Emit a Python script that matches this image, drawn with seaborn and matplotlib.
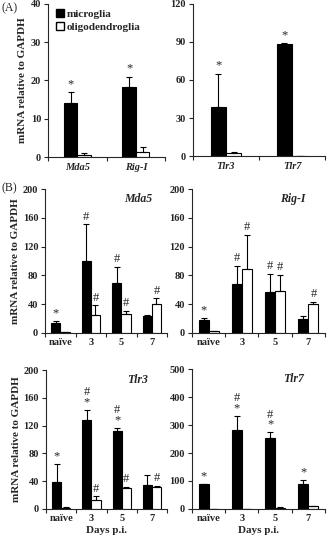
import numpy as np
import pandas as pd
import matplotlib.pyplot as plt
import seaborn as sns
from matplotlib.patches import Patch

# Panel A: cultured cells
genes_a = ['Mda5', 'Rig-I', 'Tlr3', 'Tlr7']
mic_a = [14, 18.3, 39, 88.5]
mic_a_err = [3, 2.7, 26, 0.5]
oli_a = [0.6, 1.3, 2.5, 0.3]
oli_a_err = [0.6, 1.4, 0.8, 0.1]
mic_a_sig = ['*', '*', '*', '*']
oli_a_sig = ['', '', '', '']

# Panel B: time course
days = ['naïve', '3', '5', '7']
mda5_mic = [14, 100, 70, 24]
mda5_mic_err = [3, 51, 22, 0.5]
mda5_oli = [1, 25, 26, 40]
mda5_oli_err = [0.3, 13, 5, 8]
mda5_mic_sig = ['*', '#', '#', '']
mda5_oli_sig = ['', '#', '#', '#']

rigi_mic = [18, 68, 57, 19]
rigi_mic_err = [3, 25, 25, 5]
rigi_oli = [2, 89, 58, 40]
rigi_oli_err = [0.5, 47, 23, 3]
rigi_mic_sig = ['*', '#', '#', '']
rigi_oli_sig = ['', '#', '#', '#']

tlr3_mic = [39, 128, 113, 34]
tlr3_mic_err = [26, 15, 4, 15]
tlr3_oli = [2, 13, 30, 31]
tlr3_oli_err = [0.5, 5, 2, 2]
tlr3_mic_sig = ['*', '#\n*', '#\n*', '']
tlr3_oli_sig = ['', '#', '#', '#']

tlr7_mic = [88, 283, 253, 88]
tlr7_mic_err = [0.5, 50, 22, 15]
tlr7_oli = [1, 1, 5, 10]
tlr7_oli_err = [0.3, 0.3, 1, 1]
tlr7_mic_sig = ['*', '#\n*', '#\n*', '*']
tlr7_oli_sig = ['', '', '', '']

cells = ['microglia', 'oligodendroglia']
palette = {'microglia': 'black', 'oligodendroglia': 'white'}

sns.set_style('ticks')
plt.rcParams['font.family'] = ['Liberation Serif', 'DejaVu Serif']
plt.rcParams['font.weight'] = 'bold'
plt.rcParams['axes.linewidth'] = 0.8


def make_df(cats, mic, oli):
    return pd.DataFrame({
        'cat': list(cats) * 2,
        'cell': [cells[0]] * len(cats) + [cells[1]] * len(cats),
        'val': list(mic) + list(oli),
    })


def draw(ax, cats, mic, mic_err, oli, oli_err, mic_sig, oli_sig, ymax, ystep, width):
    df = make_df(cats, mic, oli)
    sns.barplot(data=df, x='cat', y='val', hue='cell', hue_order=cells,
                palette=palette, edgecolor='black', linewidth=0.8,
                errorbar=None, width=width, legend=False, ax=ax)
    for cont, err, sig in zip(ax.containers, [mic_err, oli_err], [mic_sig, oli_sig]):
        xs = [b.get_x() + b.get_width() / 2 for b in cont]
        hs = [b.get_height() for b in cont]
        ax.errorbar(xs, hs, yerr=[np.zeros(len(err)), err], fmt='none',
                    ecolor='black', elinewidth=0.8, capsize=2, capthick=0.8)
        for x, h, e, s in zip(xs, hs, err, sig):
            if s:
                ax.text(x, h + e + ymax * 0.012, s, ha='center', va='bottom',
                        fontsize=9, fontweight='normal', linespacing=0.75)
    n = len(cats)
    ax.set_xlim(-0.5, n - 0.5)
    ax.set_ylim(0, ymax)
    ax.set_yticks(np.arange(0, ymax + 1, ystep))
    ax.set_xticks(np.arange(-0.5, n, 1), minor=True)
    ax.tick_params(axis='x', which='major', length=0, labelsize=7.5, pad=4)
    ax.tick_params(axis='x', which='minor', length=3, width=0.8)
    ax.tick_params(axis='y', length=3, width=0.8, labelsize=7.5, pad=2)
    ax.set_xlabel('')
    ax.set_ylabel('')
    sns.despine(ax=ax)


fig = plt.figure(figsize=(3.27, 5.42), dpi=100)

# Panel A
ax1 = fig.add_axes([0.147, 0.710, 0.358, 0.283])
draw(ax1, genes_a[:2], mic_a[:2], mic_a_err[:2], oli_a[:2], oli_a_err[:2],
     mic_a_sig[:2], oli_a_sig[:2], 40, 10, 0.46)
ax2 = fig.add_axes([0.590, 0.712, 0.404, 0.281])
draw(ax2, genes_a[2:], mic_a[2:], mic_a_err[2:], oli_a[2:], oli_a_err[2:],
     mic_a_sig[2:], oli_a_sig[2:], 120, 30, 0.46)
for ax in (ax1, ax2):
    for t in ax.get_xticklabels():
        t.set_style('italic')
ax1.set_ylabel('mRNA relative to GAPDH', fontsize=8, fontweight='bold', labelpad=3)
ax1.legend(handles=[Patch(facecolor='black', edgecolor='black', label='microglia'),
                    Patch(facecolor='white', edgecolor='black', label='oligodendroglia')],
           loc='upper left', bbox_to_anchor=(-0.02, 1.03), frameon=False,
           handlelength=0.7, handleheight=0.7, handletextpad=0.3,
           labelspacing=0.25, prop={'size': 8, 'weight': 'bold'})

# Panel B
panels = [
    ([0.138, 0.386, 0.373, 0.265], 'Mda5', mda5_mic, mda5_mic_err, mda5_oli, mda5_oli_err,
     mda5_mic_sig, mda5_oli_sig, 200, 40),
    ([0.587, 0.386, 0.407, 0.265], 'Rig-I', rigi_mic, rigi_mic_err, rigi_oli, rigi_oli_err,
     rigi_mic_sig, rigi_oli_sig, 200, 40),
    ([0.141, 0.061, 0.370, 0.256], 'Tlr3', tlr3_mic, tlr3_mic_err, tlr3_oli, tlr3_oli_err,
     tlr3_mic_sig, tlr3_oli_sig, 200, 40),
    ([0.587, 0.061, 0.407, 0.258], 'Tlr7', tlr7_mic, tlr7_mic_err, tlr7_oli, tlr7_oli_err,
     tlr7_mic_sig, tlr7_oli_sig, 500, 100),
]
for i, (rect, gene, m, me, o, oe, ms, osig, ymax, ystep) in enumerate(panels):
    ax = fig.add_axes(rect)
    draw(ax, days, m, me, o, oe, ms, osig, ymax, ystep, 0.6)
    ax.text(0.76, 0.93, gene, transform=ax.transAxes, ha='center', va='center',
            fontsize=8.5, fontweight='bold', style='italic')
    if i % 2 == 0:
        ax.set_ylabel('mRNA relative to GAPDH', fontsize=8, fontweight='bold', labelpad=2)
    if i >= 2:
        ax.set_xlabel('Days p.i.', fontsize=8, fontweight='bold', labelpad=2)

fig.text(0.005, 0.985, '(A)', ha='left', va='center', fontsize=8.5, fontweight='normal')
fig.text(0.005, 0.652, '(B)', ha='left', va='center', fontsize=8.5, fontweight='normal')

fig.savefig('out.png', dpi=100)
